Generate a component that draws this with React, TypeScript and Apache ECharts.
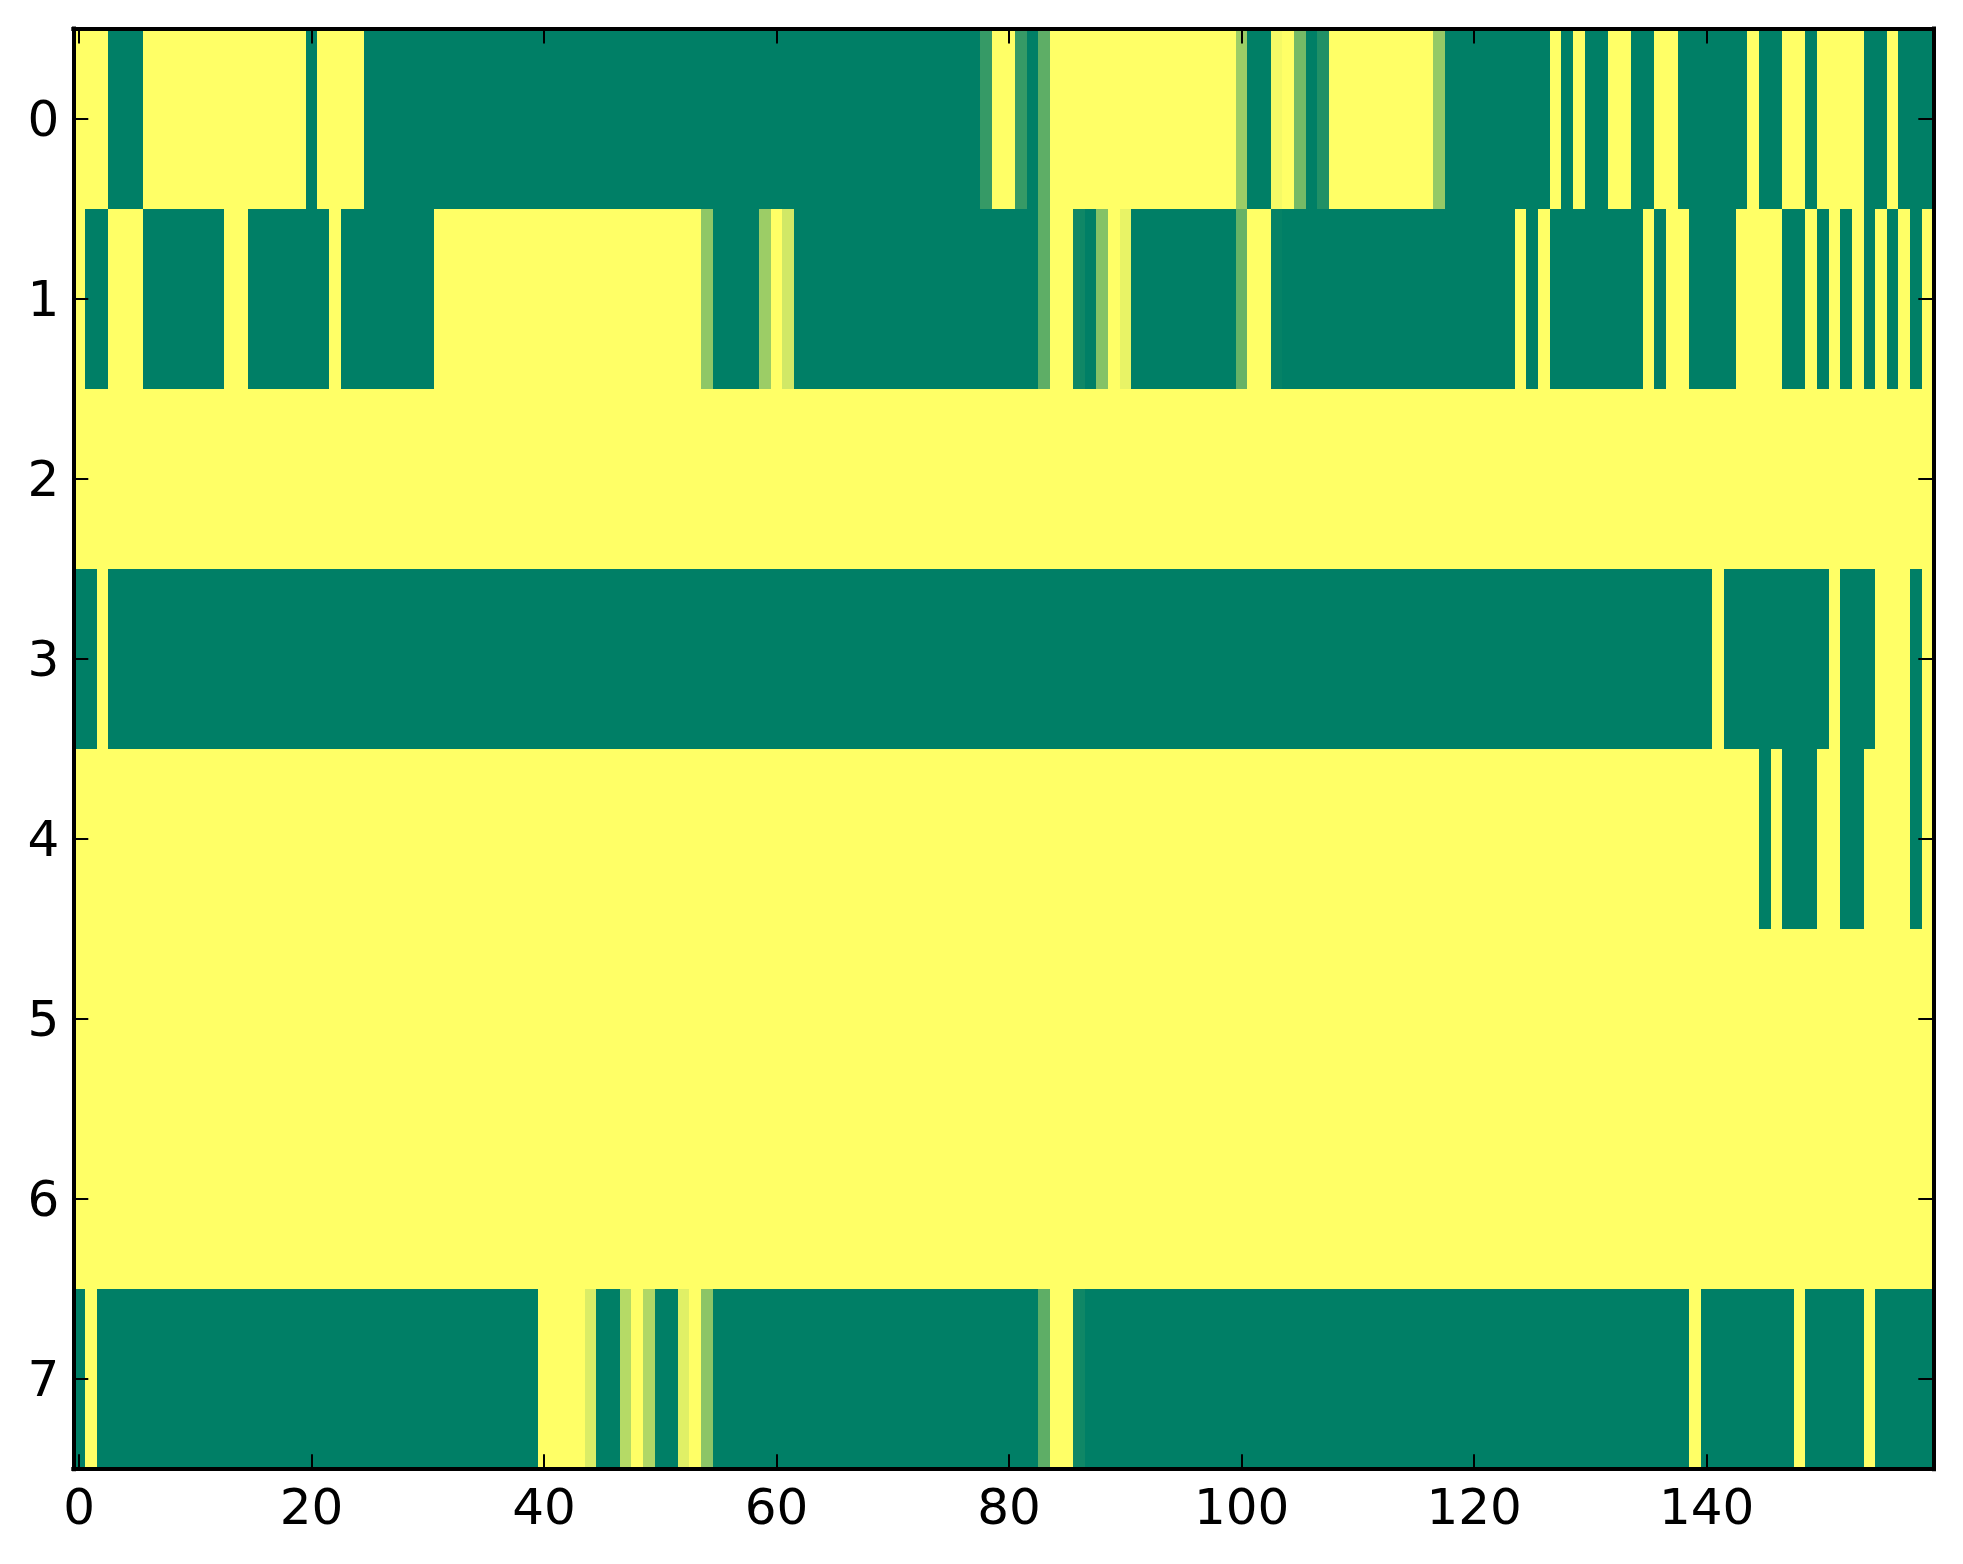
import React, { useEffect, useRef } from "react";
import * as echarts from "echarts";

const xCategories: string[] = Array.from({ length: 160 }, (_, i) => String(i));
const yCategories = ["0", "1", "2", "3", "4", "5", "6", "7"];

// Each run: [first column, column after last, value] (0 = yellow end, 1 = green end)
const row0Runs = [
  [0, 3, 0], [3, 6, 1], [6, 20, 0], [20, 21, 1], [21, 25, 0], [25, 78, 1], [78, 79, 0.79], [79, 81, 0],
  [81, 82, 0.79], [82, 83, 1], [83, 84, 0.63], [84, 100, 0], [100, 101, 0.39], [101, 103, 1], [103, 104, 0.04],
  [104, 105, 0], [105, 106, 0.54], [106, 107, 1], [107, 108, 0.87], [108, 117, 0], [117, 118, 0.42], [118, 127, 1],
  [127, 128, 0], [128, 129, 1], [129, 130, 0], [130, 132, 1], [132, 134, 0], [134, 136, 1], [136, 138, 0],
  [138, 144, 1], [144, 145, 0], [145, 147, 1], [147, 149, 0], [149, 150, 1], [150, 154, 0], [154, 156, 1],
  [156, 157, 0], [157, 160, 1],
];
const row1Runs = [
  [0, 1, 0], [1, 3, 1], [3, 6, 0], [6, 13, 1], [13, 15, 0], [15, 22, 1], [22, 23, 0], [23, 31, 1], [31, 54, 0],
  [54, 55, 0.44], [55, 59, 1], [59, 60, 0.39], [60, 61, 0], [61, 62, 0.18], [62, 83, 1], [83, 84, 0.63], [84, 86, 0],
  [86, 87, 0.94], [87, 88, 1], [88, 89, 0.48], [89, 90, 0], [90, 91, 0.09], [91, 100, 1], [100, 101, 0.6],
  [101, 103, 0], [103, 104, 0.98], [104, 124, 1], [124, 125, 0], [125, 126, 1], [126, 127, 0], [127, 135, 1],
  [135, 136, 0], [136, 137, 1], [137, 139, 0], [139, 143, 1], [143, 147, 0], [147, 149, 1], [149, 150, 0],
  [150, 151, 1], [151, 152, 0], [152, 153, 1], [153, 154, 0], [154, 155, 1], [155, 156, 0], [156, 157, 1],
  [157, 158, 0], [158, 159, 1], [159, 160, 0],
];
const row2Runs = [[0, 160, 0]];
const row3Runs = [
  [0, 2, 1], [2, 3, 0], [3, 141, 1], [141, 142, 0], [142, 151, 1], [151, 152, 0], [152, 155, 1], [155, 158, 0],
  [158, 159, 1], [159, 160, 0],
];
const row4Runs = [
  [0, 145, 0], [145, 146, 1], [146, 147, 0], [147, 150, 1], [150, 152, 0], [152, 154, 1], [154, 158, 0],
  [158, 159, 1], [159, 160, 0],
];
const row5Runs = [[0, 160, 0]];
const row6Runs = [[0, 160, 0]];
const row7Runs = [
  [0, 1, 1], [1, 2, 0], [2, 40, 1], [40, 44, 0], [44, 45, 0.14], [45, 47, 1], [47, 48, 0.29], [48, 49, 0],
  [49, 50, 0.31], [50, 52, 1], [52, 53, 0.12], [53, 54, 0], [54, 55, 0.45], [55, 83, 1], [83, 84, 0.63],
  [84, 86, 0], [86, 87, 0.94], [87, 139, 1], [139, 140, 0], [140, 148, 1], [148, 149, 0], [149, 154, 1], [154, 155, 0], [155, 160, 1],
];
const rows = [row0Runs, row1Runs, row2Runs, row3Runs, row4Runs, row5Runs, row6Runs, row7Runs];

// [first column, last column, row, value]
const spans: number[][] = [];
rows.forEach((runs, r) => {
  runs.forEach(([from, to, v]) => spans.push([from, to - 1, r, v]));
});

const FONT = "DejaVu Sans";
const isTick = (i: number) => i % 20 === 0;

export default function App() {
  const ref = useRef<HTMLDivElement>(null);
  useEffect(() => {
    document.body.style.margin = "0";
    const chart = echarts.init(ref.current!, undefined, { renderer: "svg" });
    const spine = { show: true, onZero: false, lineStyle: { color: "#000", width: 4, cap: "square" } };
    const tickStyle = { color: "#000", width: 2 };
    chart.setOption({
      animation: false,
      backgroundColor: "#fff",
      grid: { left: 73.3, right: 29.7, top: 28.5, bottom: 94.8, containLabel: false },
      xAxis: [
        {
          type: "category",
          data: xCategories,
          position: "bottom",
          axisLine: spine,
          axisTick: { show: true, inside: true, length: 15, interval: (i: number) => isTick(i), alignWithLabel: true, lineStyle: tickStyle },
          axisLabel: { show: true, interval: (i: number) => isTick(i), color: "#000", fontFamily: FONT, fontSize: 50, margin: 13 },
          splitLine: { show: false },
          z: 5,
        },
        {
          type: "category",
          data: xCategories,
          position: "top",
          axisLine: spine,
          axisTick: { show: true, inside: true, length: 15, interval: (i: number) => isTick(i), alignWithLabel: true, lineStyle: tickStyle },
          axisLabel: { show: false },
          splitLine: { show: false },
          z: 5,
        },
      ],
      yAxis: [
        {
          type: "category",
          data: yCategories,
          inverse: true,
          position: "left",
          axisLine: spine,
          axisTick: { show: true, inside: true, length: 15, alignWithLabel: true, lineStyle: tickStyle },
          axisLabel: { show: true, color: "#000", fontFamily: FONT, fontSize: 50, margin: 14 },
          splitLine: { show: false },
          z: 5,
        },
        {
          type: "category",
          data: yCategories,
          inverse: true,
          position: "right",
          axisLine: spine,
          axisTick: { show: true, inside: true, length: 15, alignWithLabel: true, lineStyle: tickStyle },
          axisLabel: { show: false },
          splitLine: { show: false },
          z: 5,
        },
      ],
      visualMap: {
        show: false,
        type: "continuous",
        min: 0,
        max: 1,
        dimension: 3,
        seriesIndex: 0,
        inRange: { color: ["#ffff66", "#007f66"] },
      },
      series: [
        {
          type: "custom",
          xAxisIndex: 0,
          yAxisIndex: 0,
          encode: { x: [0, 1], y: 2 },
          data: spans,
          clip: true,
          renderItem: (_params: any, api: any) => {
            const [bw, bh] = api.size([1, 1]);
            const start = api.coord([api.value(0), api.value(2)]);
            const end = api.coord([api.value(1), api.value(2)]);
            const x0 = Math.round(start[0] - bw / 2);
            const x1 = Math.round(end[0] + bw / 2);
            const y0 = Math.round(start[1] - bh / 2);
            const y1 = Math.round(start[1] + bh / 2);
            return {
              type: "rect",
              shape: { x: x0, y: y0, width: x1 - x0, height: y1 - y0 },
              style: { fill: api.visual("color"), stroke: null },
            };
          },
        },
      ],
    });
    return () => chart.dispose();
  }, []);
  return <div ref={ref} style={{ width: 1963, height: 1564 }} />;
}
